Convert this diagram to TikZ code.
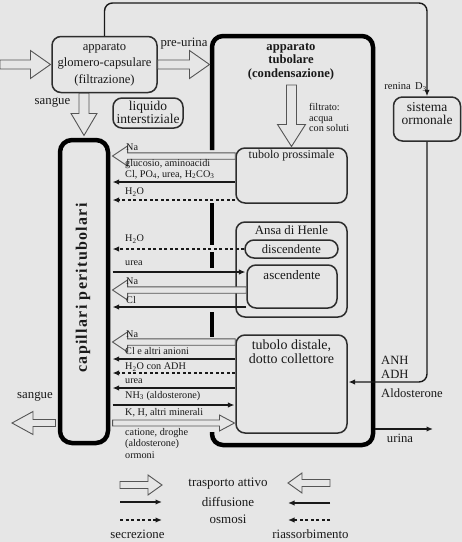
\documentclass[tikz,border=0pt]{standalone}
\usepackage{fontspec}
\setmainfont{Liberation Serif}
\newfontfamily\capfont[LetterSpace=8]{Liberation Serif}
\usetikzlibrary{arrows.meta,calc}
\definecolor{bg}{RGB}{230,230,230}
\definecolor{ink}{RGB}{25,25,25}
\definecolor{edge}{RGB}{45,45,45}
\definecolor{hedge}{RGB}{85,85,85}
\newcommand\fsz[2]{\fontsize{#1}{#2}\selectfont}
\newcommand\harrow[6][]{%
  \coordinate (hA) at #2;
  \coordinate (hB) at #3;
  \coordinate (hH) at ($(hB)!#6!(hA)$);
  \draw[hollow,#1] ($(hA)!#4!90:(hB)$) -- ($(hH)!#4!90:(hB)$) -- ($(hH)!#5!90:(hB)$) -- (hB) -- ($(hH)!#5!-90:(hB)$) -- ($(hH)!#4!-90:(hB)$) -- ($(hA)!#4!-90:(hB)$) -- cycle;}
\begin{document}
\begin{tikzpicture}[x=1pt,y=-1pt,
  box/.style={draw=edge, line width=1.5pt, rounded corners=9pt, fill=bg, inner sep=0pt},
  thickbox/.style={draw=black, line width=4.5pt},
  conn/.style={draw=ink, line width=1.4pt},
  tipR/.style={-{Latex[length=6.5pt,width=5.5pt]}},
  diff/.style={conn, tipR},
  osm/.style={diff, dash pattern=on 3pt off 2.5pt},
  hollow/.style={draw=hedge, line width=0.9pt, fill=bg, line join=miter},
  txt/.style={text=ink, inner sep=0pt, align=center},
  lab/.style={text=ink, inner sep=0pt, anchor=west, font=\fsz{10.2}{11.5}},
]
\fill[bg] (0,0) rectangle (462,542);
\useasboundingbox (0,0) rectangle (462,542);

% ---------- boxes ----------
\node[minimum width=161pt, minimum height=409pt, inner sep=0pt] (tub) at (292.5,240.5) {};
\draw[thickbox, rounded corners=11pt] (212,150) -- (212,36) -- (373,36) -- (373,445) -- (212,445) -- (212,432);
\draw[thickbox] (212,203) -- (212,245);
\draw[thickbox] (212,252) -- (212,268);
\draw[thickbox] (212,312) -- (212,337);

\node[box, minimum width=105pt, minimum height=56pt] (glom) at (104.5,64.5) {};
\node[box, minimum width=70pt, minimum height=30pt] (liq) at (148,113) {};
\node[box, minimum width=67pt, minimum height=44pt] (horm) at (427,119) {};
\node[box, draw=black, line width=4.5pt, rounded corners=12pt, minimum width=48pt, minimum height=303pt] (cap) at (84,291.5) {};
\node[box, minimum width=111pt, minimum height=55pt] (tp) at (291.5,175.5) {};
\node[box, minimum width=111pt, minimum height=95pt] (henle) at (291.5,269.5) {};
\node[box, rounded corners=9pt, minimum width=93pt, minimum height=18pt] (disc) at (291.5,249) {};
\node[box, minimum width=90pt, minimum height=43pt] (asc) at (292,286.5) {};
\node[box, minimum width=111pt, minimum height=98pt] (dist) at (291.5,384) {};

% ---------- hormonal loop ----------
\coordinate (topy) at (0,3);
\draw[conn, rounded corners=8pt, -{Latex[length=6.5pt,width=5.5pt]}] (glom.north) |- (horm.north |- topy) -- (horm.north);
\draw[conn, rounded corners=8pt, -{Latex[length=6.5pt,width=5.5pt]}] (horm.south) |- ($(dist.east |- 0,382)+(0.8,0)$);
\coordinate (urinaend) at (433,429);
\draw[diff] ($(tub.east |- 0,429)+(2.2,0)$) -- (urinaend);

% ---------- big hollow arrows ----------
\coordinate (inL) at (0,64.5);
\harrow{(inL)}{($(glom.west)+(-0.8,0)$)}{4.5pt}{14pt}{20pt}
\harrow{(glom.east)}{($(tub.west |- glom.east)+(-2.3,0)$)}{4.5pt}{14pt}{20pt}
\harrow{(cap.north |- glom.south)}{($(cap.north)+(0,-2.3)$)}{5pt}{13pt}{22pt}
\coordinate (filt) at (291.5,85);
\harrow{(filt)}{($(tp.north)+(0,-0.8)$)}{5pt}{14pt}{22pt}
\coordinate (sangueL) at (12,423);
\harrow{($(cap.west |- 0,423)+(-2.3,0)$)}{(sangueL)}{3.5pt}{11.5pt}{21pt}

% ---------- proximal tubule ----------
\harrow{(tp.west |- 0,156)}{($(cap.east |- 0,156)+(2.3,0)$)}{3.2pt}{10pt}{15pt}
\draw[diff] (tp.west |- 0,182) -- ($(cap.east |- 0,182)+(2.3,0)$);
\draw[osm] (tp.west |- 0,200) -- ($(cap.east |- 0,200)+(2.3,0)$);

% ---------- Henle ----------
\draw[osm] (disc.west) -- ($(cap.east |- disc.west)+(2.3,0)$);
\draw[diff] ($(cap.east |- 0,272)+(2.3,0)$) -- ($(asc.west |- 0,272)+(-0.8,0)$);
\harrow{(asc.west |- 0,290)}{($(cap.east |- 0,290)+(2.3,0)$)}{3.2pt}{10pt}{15pt}
\draw[diff] (asc.west |- 0,307) -- ($(cap.east |- 0,307)+(2.3,0)$);

% ---------- distal ----------
\harrow{(dist.west |- 0,342)}{($(cap.east |- 0,342)+(2.3,0)$)}{3.2pt}{10pt}{15pt}
\draw[diff] (dist.west |- 0,359) -- ($(cap.east |- 0,359)+(2.3,0)$);
\draw[osm] (dist.west |- 0,373) -- ($(cap.east |- 0,373)+(2.3,0)$);
\draw[diff] (dist.west |- 0,388) -- ($(cap.east |- 0,388)+(2.3,0)$);
\draw[diff] ($(cap.east |- 0,405)+(2.3,0)$) -- ($(dist.west |- 0,405)+(-0.8,0)$);
\harrow{($(cap.east |- 0,423)+(2.3,0)$)}{($(dist.west |- 0,423)+(-0.8,0)$)}{3pt}{8pt}{15pt}

% ---------- legend ----------
\coordinate (l1a) at (120,485); \coordinate (l1b) at (162,485);
\coordinate (l2a) at (120,502); \coordinate (l2b) at (162,502);
\coordinate (l3a) at (120,520); \coordinate (l3b) at (162,520);
\coordinate (r1a) at (330,483); \coordinate (r1b) at (288,483);
\coordinate (r2a) at (330,503); \coordinate (r2b) at (288,503);
\coordinate (r3a) at (330,520); \coordinate (r3b) at (288,520);
\harrow{(l1a)}{(l1b)}{3.5pt}{10pt}{14pt}
\harrow{(r1a)}{(r1b)}{3.5pt}{10pt}{14pt}
\draw[diff] (l2a) -- (l2b);
\draw[diff] (r2a) -- (r2b);
\draw[osm] (l3a) -- (l3b);
\draw[osm] (r3a) -- (r3b);

% ---------- texts ----------
\node[txt, font=\fsz{12.6}{16.5}] (glomt) at (104.5,64.5) {apparato\\glomero-capsulare\\(filtrazione)};
\node[txt, font=\fsz{12.8}{14}] (preu) at (184,43.5) {pre-urina};
\node[txt, font=\fsz{12.8}{14}] (sang1) at (52.5,103) {sangue};
\node[txt, font=\fsz{13.5}{13}] (liqt) at (148,112) {liquido\\interstiziale};
\node[txt, font=\fsz{13.5}{13}] (hormt) at (427,114) {sistema\\ormonale};
\node[txt, font=\fsz{10.5}{12}, anchor=east] (ren) at (427,87) {renina\, D\textsubscript{3}};
\node[txt, font=\fsz{12.6}{13.7}\bfseries] (tubt) at (291,61.5) {apparato\\tubolare\\(condensazione)};
\node[txt, font=\fsz{10.2}{10.5}, anchor=west, align=left] (filtt) at (309,117.5) {filtrato:\\acqua\\con soluti};
\node[txt, font=\fsz{12}{13}] (tpt) at (291.5,155.5) {tubolo prossimale};
\node[txt, font=\fsz{12.8}{13}] (henlet) at (291.5,230) {Ansa di Henle};
\node[txt, font=\fsz{12.5}{13}] (disct) at (291.5,249) {discendente};
\node[txt, font=\fsz{13}{13}] (asct) at (292,275.5) {ascendente};
\node[txt, font=\fsz{14}{13.5}] (distt) at (291.5,351.5) {tubolo distale,\\dotto collettore};
\node[txt, font=\fsz{12.6}{14}, anchor=west] (anh) at (381,360) {ANH};
\node[txt, font=\fsz{12.6}{14}, anchor=west] (adh) at (381,374) {ADH};
\node[txt, font=\fsz{12.6}{14}, anchor=west] (ald) at (381,393) {Aldosterone};
\node[txt, font=\fsz{12.7}{14}] (urt) at (400,438) {urina};
\node[txt, font=\fsz{12.8}{14}] (sang2) at (35,397) {sangue};
\node[txt, font=\fsz{16}{18}\capfont\bfseries, rotate=90] (capt) at (83,288) {capillari peritubolari};

\node[lab] (t1) at (126,147.5) {Na};
\node[lab] (t2) at (125,164) {glucosio, aminoacidi};
\node[lab] (t3) at (125,174.5) {Cl, PO\textsubscript{4}, urea, H\textsubscript{2}CO\textsubscript{3}};
\node[lab] (t4) at (125,192) {H\textsubscript{2}O};
\node[lab] (t5) at (125,239) {H\textsubscript{2}O};
\node[lab] (t6) at (125,263) {urea};
\node[lab] (t7) at (126,281) {Na};
\node[lab] (t8) at (126,300.5) {Cl};
\node[lab] (t9) at (126,334.5) {Na};
\node[lab] (t10) at (125,351) {Cl e altri anioni};
\node[lab] (t11) at (125,367) {H\textsubscript{2}O con ADH};
\node[lab] (t12) at (125,381) {urea};
\node[lab] (t13) at (125,396) {NH\textsubscript{3} (aldosterone)};
\node[lab] (t14) at (125,413) {K, H, altri minerali};
\node[lab, align=left] (t15) at (125,443.5) {catione, droghe\\(aldosterone)\\ormoni};

\node[txt, font=\fsz{13}{14}] (lg1) at (228,483.5) {trasporto attivo};
\node[txt, font=\fsz{13}{14}] (lg2) at (228,501.5) {diffusione};
\node[txt, font=\fsz{13}{14}] (lg3) at (228,519) {osmosi};
\node[txt, font=\fsz{12.8}{14}] (lg4) at (137.5,534.5) {secrezione};
\node[txt, font=\fsz{12.8}{14}] (lg5) at (310.5,534.5) {riassorbimento};
\end{tikzpicture}
\end{document}
